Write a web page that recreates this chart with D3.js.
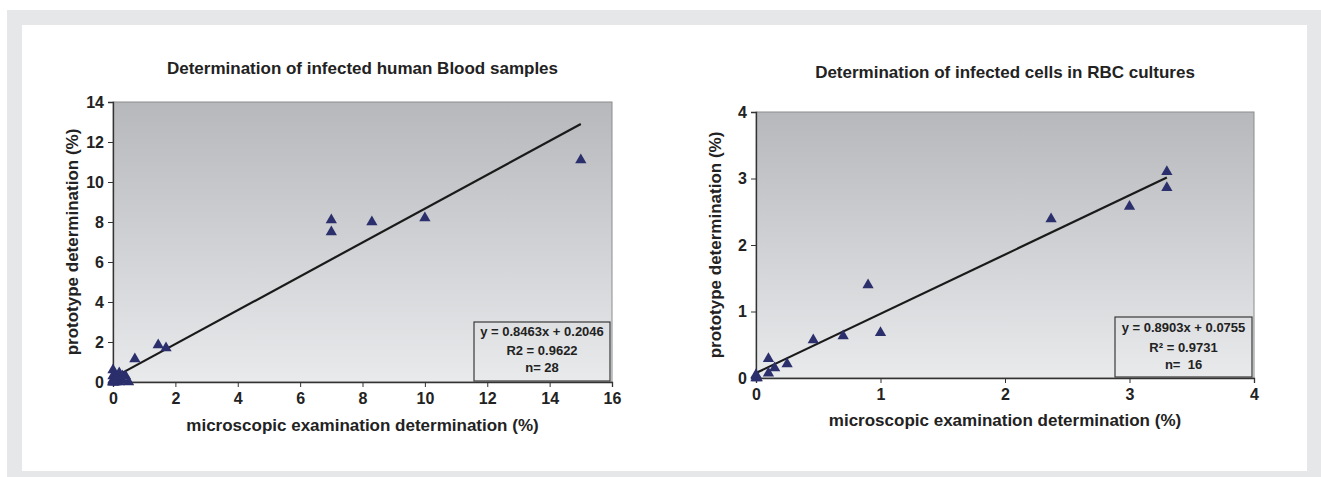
<!DOCTYPE html>
<html>
<head>
<meta charset="utf-8">
<script src="https://cdn.jsdelivr.net/npm/d3@7"></script>
<style>
  body { margin: 0; background: #fff; }
  svg { display: block; font-family: "Liberation Sans", Arial, sans-serif; }
</style>
</head>
<body>
<svg id="chart" width="1321" height="477"></svg>
<script>
// blood samples (left chart)
let bloodX = [15, 7, 7, 8.3, 10, 1.45, 1.7, 0.7,
  0, 0.2, 0.4, 0.5, 0.05, 0, 0, 0, 0.1, 0.1, 0.3, 0, 0.05, 0.2, 0, 0.15, 0, 0.02, 0.1, 0.3];
let bloodY = [11.1, 8.1, 7.5, 8.0, 8.2, 1.85, 1.7, 1.15,
  0.6, 0.45, 0.3, 0, 0.1, 0, 0, 0.05, 0, 0.2, 0.1, 0.3, 0, 0, 0.1, 0.05, 0, 0, 0.1, 0.3];
let bloodFit = [0.8463, 0.2046];
let bloodTicksX = [0, 2, 4, 6, 8, 10, 12, 14, 16];
let bloodTicksY = [0, 2, 4, 6, 8, 10, 12, 14];
let bloodNotes = ['y = 0.8463x + 0.2046', 'R2 = 0.9622', 'n= 28'];

// RBC cultures (right chart)
let rbcX = [3.3, 3.3, 3.0, 2.37, 0.9, 1.0, 0.7, 0.46, 0.25, 0.1, 0.15, 0.1, 0, 0, 0.01, 0];
let rbcY = [3.1, 2.86, 2.58, 2.39, 1.4, 0.68, 0.63, 0.57, 0.21, 0.29, 0.15, 0.07, 0, 0.03, 0, 0.05];
let rbcFit = [0.8903, 0.0755];
let rbcTicksX = [0, 1, 2, 3, 4];
let rbcTicksY = [0, 1, 2, 3, 4];
let rbcNotes = ['y = 0.8903x + 0.0755', 'R\u00b2 = 0.9731', 'n=  16'];

let svg = d3.select('#chart');

// page frame
svg.append('rect').attr('x', 7).attr('y', 10).attr('width', 1314).attr('height', 467).attr('fill', '#e6e7e9');
svg.append('rect').attr('x', 22).attr('y', 25).attr('width', 1285).attr('height', 446).attr('fill', '#fff');

let defs = svg.append('defs');
let grad = defs.append('linearGradient').attr('id', 'bg').attr('x1', 0).attr('y1', 0).attr('x2', 0).attr('y2', 1);
grad.append('stop').attr('offset', '0%').attr('stop-color', '#b6b8bc');
grad.append('stop').attr('offset', '100%').attr('stop-color', '#e9eaec');

function makePlot(opt) {
  let g = svg.append('g');
  let x = d3.scaleLinear().domain([0, opt.ticksX[opt.ticksX.length - 1]]).range([opt.left, opt.right]);
  let y = d3.scaleLinear().domain([0, opt.ticksY[opt.ticksY.length - 1]]).range([opt.bottom, opt.top]);

  g.append('rect')
    .attr('x', opt.left).attr('y', opt.top)
    .attr('width', opt.right - opt.left).attr('height', opt.bottom - opt.top)
    .attr('fill', 'url(#bg)')
    .attr('stroke', '#8c8c8c').attr('stroke-width', 1);

  let xAxis = g.append('g')
    .attr('transform', `translate(0,${opt.bottom})`)
    .call(d3.axisBottom(x).tickValues(opt.ticksX).tickFormat(d3.format('d')).tickSize(5).tickPadding(6));
  let yAxis = g.append('g')
    .attr('transform', `translate(${opt.left},0)`)
    .call(d3.axisLeft(y).tickValues(opt.ticksY).tickFormat(d3.format('d')).tickSize(5).tickPadding(4));
  [xAxis, yAxis].forEach(a => {
    a.select('.domain').attr('stroke', '#333').attr('stroke-width', 1.3);
    a.selectAll('line').attr('stroke', '#333');
    a.selectAll('text').attr('fill', '#222').style('font-size', '16px').style('font-weight', 'bold');
  });

  // trend line
  let x1 = d3.max(opt.xs);
  g.append('line')
    .attr('x1', x(0)).attr('y1', y(opt.fit[1]))
    .attr('x2', x(x1)).attr('y2', y(opt.fit[0] * x1 + opt.fit[1]))
    .attr('stroke', '#1a1a1a').attr('stroke-width', 2.2);

  // points
  let tri = d3.symbol().type(d3.symbolTriangle).size(55);
  g.selectAll('path.pt')
    .data(opt.xs.map((v, i) => [v, opt.ys[i]]))
    .enter()
    .append('path')
    .attr('class', 'pt')
    .attr('d', tri)
    .attr('transform', d => `translate(${x(d[0])},${y(d[1])})`)
    .attr('fill', '#2b2f6c');

  // equation box
  let b = opt.box;
  g.append('rect')
    .attr('x', b[0]).attr('y', b[1]).attr('width', b[2] - b[0]).attr('height', b[3] - b[1])
    .attr('fill', 'none').attr('stroke', '#3a3a3a').attr('stroke-width', 1.2);
  g.selectAll('text.note')
    .data(opt.notes)
    .enter()
    .append('text')
    .attr('class', 'note')
    .attr('x', (b[0] + b[2]) / 2)
    .attr('y', (d, i) => opt.noteY[i])
    .attr('text-anchor', 'middle')
    .attr('dominant-baseline', 'middle')
    .style('font-size', '13px').style('font-weight', 'bold').attr('fill', '#222')
    .style('white-space', 'pre')
    .text(d => d);

  // titles
  let cx = (opt.left + opt.right) / 2;
  g.append('text')
    .attr('x', cx).attr('y', opt.titleY)
    .attr('text-anchor', 'middle').attr('dominant-baseline', 'middle')
    .style('font-size', '17px').style('font-weight', 'bold').attr('fill', '#222')
    .text(opt.title);
  g.append('text')
    .attr('x', cx).attr('y', opt.xLabelY)
    .attr('text-anchor', 'middle').attr('dominant-baseline', 'middle')
    .style('font-size', '17px').style('font-weight', 'bold').attr('fill', '#222')
    .text('microscopic examination determination (%)');
  g.append('text')
    .attr('transform', `translate(${opt.yLabelX},${(opt.top + opt.bottom) / 2}) rotate(-90)`)
    .attr('text-anchor', 'middle').attr('dominant-baseline', 'middle')
    .style('font-size', '17px').style('font-weight', 'bold').attr('fill', '#222')
    .text('prototype determination (%)');
}

makePlot({
  left: 113, right: 612, top: 102, bottom: 382,
  xs: bloodX, ys: bloodY, fit: bloodFit,
  ticksX: bloodTicksX, ticksY: bloodTicksY,
  box: [474, 322, 610, 381], notes: bloodNotes, noteY: [333, 352, 369],
  title: 'Determination of infected human Blood samples', titleY: 70,
  xLabelY: 427, yLabelX: 74
});

makePlot({
  left: 756, right: 1254, top: 112, bottom: 378,
  xs: rbcX, ys: rbcY, fit: rbcFit,
  ticksX: rbcTicksX, ticksY: rbcTicksY,
  box: [1115, 317, 1252, 377], notes: rbcNotes, noteY: [329, 349, 366],
  title: 'Determination of infected cells in RBC cultures', titleY: 74,
  xLabelY: 422, yLabelX: 717
});
</script>
</body>
</html>
